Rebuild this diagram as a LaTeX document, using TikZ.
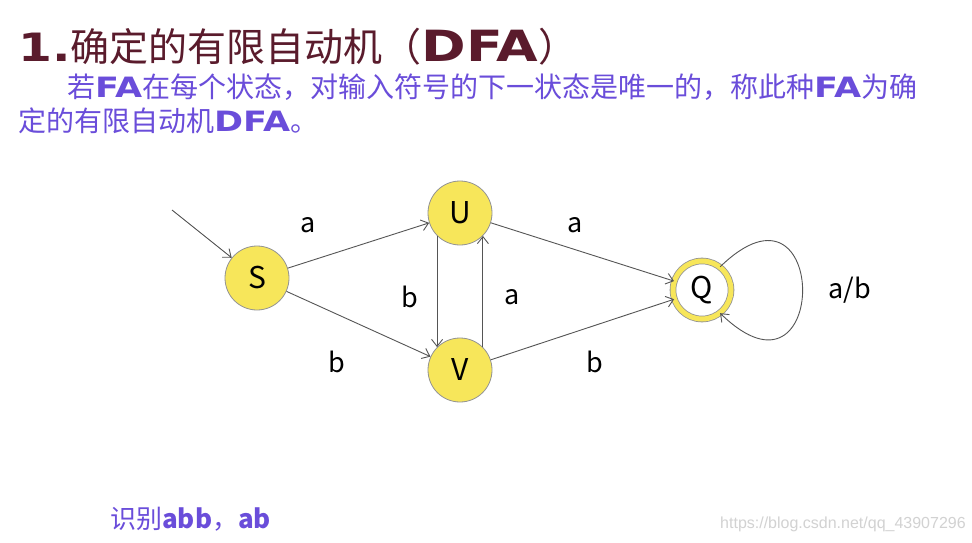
\documentclass[tikz,border=0pt]{standalone}
\usepackage{fontspec}
\setmainfont{Noto Sans CJK SC}
\newfontfamily\markfont{Liberation Sans}
\newfontfamily\latinbold{DejaVu Sans}[FakeStretch=1.25]
\newcommand{\lb}[1]{{\latinbold\bfseries #1}}
\usepackage{xcolor}
\usetikzlibrary{arrows.meta}

\definecolor{titlered}{HTML}{5A1B2C}
\definecolor{textviolet}{HTML}{6A4DDA}
\definecolor{stateyellow}{HTML}{F7E65A}
\definecolor{edgegray}{HTML}{555555}

\begin{document}
\begin{tikzpicture}[
    x=1pt, y=-1pt,
    state/.style={circle, draw=gray!85, line width=0.8pt, fill=stateyellow, minimum size=64pt, inner sep=0pt, font=\fontsize{30}{30}\selectfont},
    accept/.style={state, fill=white, double=stateyellow, double distance=5pt, minimum size=58pt},
    elabel/.style={font=\fontsize{27}{27}\selectfont, inner sep=0pt},
    txt/.style={anchor=base west, inner sep=0pt, text=textviolet},
    arr/.style={-{Straight Barb[length=7pt,width=11pt]}, draw=edgegray, line width=0.9pt}
]
\fill[white] (0,0) rectangle (972,543);
\useasboundingbox (0,0) rectangle (972,543);

% Texts
\node[txt, text=titlered, text depth=0pt, font=\fontsize{39}{39}\selectfont] (title) at (18,62) {\lb{1.}确定的有限自动机（\lb{\fontsize{43}{43}\selectfont DFA}）};
\node[txt, text height=20pt, font=\fontsize{28}{28}\selectfont] (def1) at (67,97) {若\lb{FA}在每个状态，对输入符号的下一状态是唯一的，称此种\lb{FA}为确};
\node[txt, font=\fontsize{28}{28}\selectfont] (def2) at (18,131) {定的有限自动机\lb{DFA}。};
\node[txt, font=\fontsize{26}{26}\selectfont] (words) at (110,528) {识别\textbf{abb}，\textbf{ab}};
\node[txt, text=gray!35, font=\markfont\fontsize{16}{16}\selectfont] (mark) at (720,528) {https://blog.csdn.net/qq\_43907296};

% States
\node[state] (S) at (257,278) {S};
\node[state] (U) at (460,213) {U};
\node[state] (V) at (460,370) {V};
\node[accept] (Q) at (702,290) {Q};
\coordinate (start) at (172,210);

% Transitions
\draw[arr] (start) -- (S);
\draw[arr] (S) -- (U);
\draw[arr] (S) -- (V);
\draw[arr] (U.225) -- (V.135);
\draw[arr] (V.45) -- (U.315);
\draw[arr] (U) -- (Q);
\draw[arr] (V) -- (Q);
\draw[arr] (Q.52) .. controls (830,160) and (830,420) .. (Q.-52);

% Labels
\node[elabel] (lsu) at (308,225) {a};
\node[elabel] (lsv) at (337,362) {b};
\node[elabel] (luv) at (410,297) {b};
\node[elabel] (lvu) at (512,297) {a};
\node[elabel] (luq) at (575,225) {a};
\node[elabel] (lvq) at (595,362) {b};
\node[elabel] (lqq) at (850,290) {a/b};

\end{tikzpicture}
\end{document}
